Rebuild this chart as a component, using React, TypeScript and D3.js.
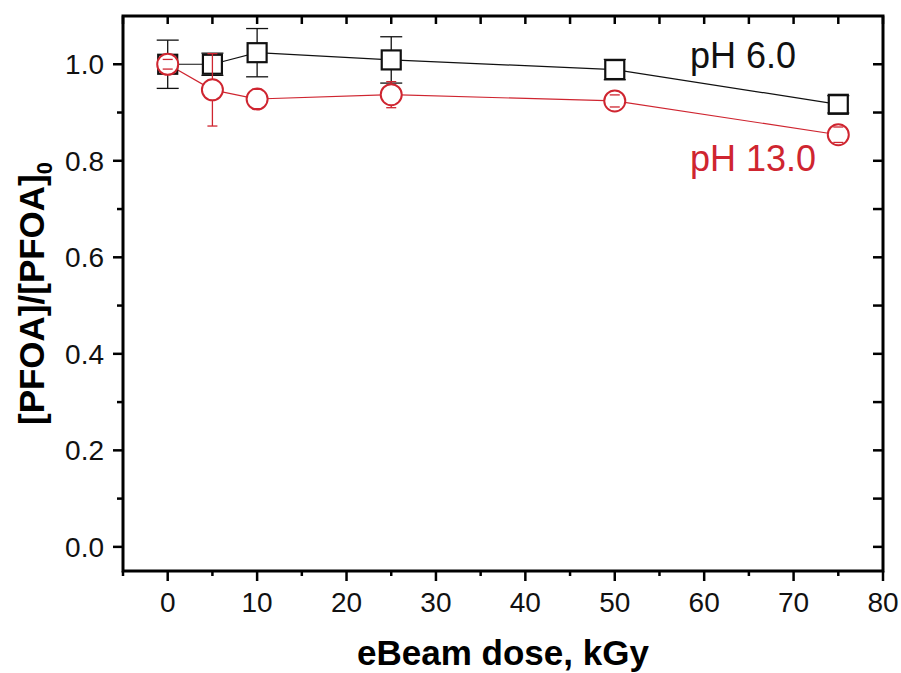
import React from "react";
import * as d3 from "d3";

const doses = [0, 5, 10, 25, 50, 75];
const ph6Values = [1.0, 1.0, 1.024, 1.009, 0.989, 0.917];
const ph6Errors = [0.05, 0.023, 0.05, 0.048, 0.021, 0.018];
const ph13Values = [1.0, 0.947, 0.928, 0.937, 0.924, 0.854];
const ph13Errors = [0.01, 0.075, 0.02, 0.027, 0.0125, 0.016];

const xMajor = [0, 10, 20, 30, 40, 50, 60, 70, 80];
const xMinor = [-5, 5, 15, 25, 35, 45, 55, 65, 75];
const yMajor = [0, 0.2, 0.4, 0.6, 0.8, 1.0];
const yMinor = [0.1, 0.3, 0.5, 0.7, 0.9];

const RED = "#cf2530";
const FONT = "'Liberation Sans', Arial, sans-serif";

const App = () => {
  const svgRef = React.useRef<SVGSVGElement>(null);

  React.useEffect(() => {
    const svg = d3.select(svgRef.current);
    svg.selectAll("*").remove();

    const left = 123, right = 883, top = 16, bottom = 571;
    const x = d3.scaleLinear().domain([-5, 80]).range([left, right]);
    const y = d3.scaleLinear().domain([-0.05, 1.1]).range([bottom, top]);

    const g = svg.append("g");

    // ticks
    const tick = (x1, y1, x2, y2) =>
      g.append("line")
        .attr("x1", x1).attr("y1", y1).attr("x2", x2).attr("y2", y2)
        .attr("stroke", "#000").attr("stroke-width", 2.5);

    xMajor.forEach((v) => {
      tick(x(v), bottom, x(v), bottom + 10);
      tick(x(v), top, x(v), top + 8);
    });
    xMinor.forEach((v) => {
      tick(x(v), bottom, x(v), bottom + 5);
      tick(x(v), top, x(v), top + 8);
    });
    yMajor.forEach((v) => {
      tick(left - 10, y(v), left, y(v));
      tick(right - 10, y(v), right, y(v));
    });
    yMinor.forEach((v) => {
      tick(left - 6, y(v), left, y(v));
      tick(right - 10, y(v), right, y(v));
    });

    g.selectAll(".xlab")
      .data(xMajor)
      .enter()
      .append("text")
      .attr("x", (d) => x(d))
      .attr("y", 612)
      .attr("text-anchor", "middle")
      .attr("font-family", FONT)
      .attr("font-size", 28)
      .attr("fill", "#111")
      .text((d) => d);

    g.selectAll(".ylab")
      .data(yMajor)
      .enter()
      .append("text")
      .attr("x", 104)
      .attr("y", (d) => y(d) + 10)
      .attr("text-anchor", "end")
      .attr("font-family", FONT)
      .attr("font-size", 28)
      .attr("fill", "#111")
      .text((d) => d3.format(".1f")(d));

    g.append("rect")
      .attr("x", left).attr("y", top)
      .attr("width", right - left).attr("height", bottom - top)
      .attr("fill", "none").attr("stroke", "#000").attr("stroke-width", 3);

    // axis titles
    g.append("text")
      .attr("x", (left + right) / 2)
      .attr("y", 665)
      .attr("text-anchor", "middle")
      .attr("font-family", FONT)
      .attr("font-weight", "bold")
      .attr("font-size", 35)
      .text("eBeam dose, kGy");

    const yt = g.append("text")
      .attr("transform", `translate(44, ${(top + bottom) / 2}) rotate(-90)`)
      .attr("text-anchor", "middle")
      .attr("font-family", FONT)
      .attr("font-weight", "bold")
      .attr("font-size", 35);
    yt.append("tspan").text("[PFOA]/[PFOA]");
    yt.append("tspan").attr("font-size", 22).attr("dy", 8).text("0");

    const series = [
      { values: ph6Values, errors: ph6Errors, color: "#111", shape: "square", half: 9.5, cap: 11 },
      { values: ph13Values, errors: ph13Errors, color: RED, shape: "circle", half: 10.5, cap: 5 },
    ];

    const line = d3.line<number>()
      .x((d, i) => x(doses[i]))
      .y((d) => y(d));

    series.forEach((s) => {
      g.append("path")
        .attr("d", line(s.values))
        .attr("fill", "none")
        .attr("stroke", s.color)
        .attr("stroke-width", 1.2);
    });

    series.forEach((s) => {
      const pts = doses.map((d, i) => ({ cx: x(d), cy: y(s.values[i]), hi: y(s.values[i] + s.errors[i]), lo: y(s.values[i] - s.errors[i]) }));
      if (s.shape === "square") {
        g.selectAll(null)
          .data(pts)
          .enter()
          .append("rect")
          .attr("x", (p) => p.cx - s.half)
          .attr("y", (p) => p.cy - s.half)
          .attr("width", s.half * 2)
          .attr("height", s.half * 2)
          .attr("fill", "#fff")
          .attr("stroke", s.color)
          .attr("stroke-width", 2.2);
      } else {
        g.selectAll(null)
          .data(pts)
          .enter()
          .append("circle")
          .attr("cx", (p) => p.cx)
          .attr("cy", (p) => p.cy)
          .attr("r", s.half)
          .attr("fill", "#fff")
          .attr("stroke", s.color)
          .attr("stroke-width", 2);
      }
      pts.forEach((p) => {
        const bar = (x1, y1, x2, y2) =>
          g.append("line")
            .attr("x1", x1).attr("y1", y1).attr("x2", x2).attr("y2", y2)
            .attr("stroke", s.color).attr("stroke-width", 1.3);
        if (p.hi < p.cy - s.half) bar(p.cx, p.hi, p.cx, p.cy - s.half);
        if (p.lo > p.cy + s.half) bar(p.cx, p.cy + s.half, p.cx, p.lo);
        bar(p.cx - s.cap, p.hi, p.cx + s.cap, p.hi);
        bar(p.cx - s.cap, p.lo, p.cx + s.cap, p.lo);
      });
    });

    g.append("text")
      .attr("x", 690).attr("y", 68)
      .attr("font-family", FONT).attr("font-size", 36)
      .attr("fill", "#111")
      .text("pH 6.0");
    g.append("text")
      .attr("x", 690).attr("y", 171)
      .attr("font-family", FONT).attr("font-size", 36)
      .attr("fill", RED)
      .text("pH 13.0");
  }, []);

  return (
    <svg
      ref={svgRef}
      width="901"
      height="673"
      style={{ position: "absolute", left: 0, top: 0, background: "#fff" }}
    ></svg>
  );
};

export default App;
